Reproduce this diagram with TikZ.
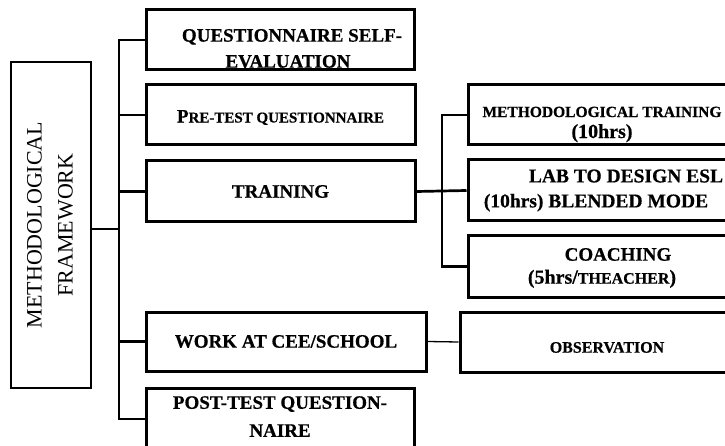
\documentclass[tikz,border=0pt]{standalone}
\usepackage{fontspec}
\setmainfont{Liberation Serif}[BoldFeatures={FakeBold=0.6}]
\newcommand{\bt}[5]{\parbox[c][#2][c]{#1}{\centering\vspace*{#3}#5\par\vspace*{#4}}}
\tikzset{
  box/.style={draw, line width=3pt, inner sep=0pt, font=\bfseries},
  mainbox/.style={draw, line width=2.4pt, inner sep=0pt, minimum width=80pt, minimum height=326pt},
  link/.style={line width=2.7pt},
  thinlink/.style={line width=1.3pt}
}
\begin{document}
\begin{tikzpicture}[x=1pt,y=-1pt]
\useasboundingbox (0,0) rectangle (725,446);
\fill[white] (0,0) rectangle (725,446);
\clip (0,0) rectangle (725,446);

% left main box
\node[mainbox] (mf) at (51,225) {\rotatebox{90}{\fontsize{22}{31}\selectfont\begin{tabular}{@{}c@{}}METHODOLOGICAL\\FRAMEWORK\end{tabular}}};

% first column
\node[box] (q) at (280,40) {\bt{268pt}{60pt}{17pt}{0pt}{\fontsize{19}{26}\selectfont\hspace*{24pt}QUESTIONNAIRE SELF-\\\hspace*{16pt}EVALUATION}};
\node[box] (pre) at (280.5,115) {\bt{269pt}{60pt}{5pt}{0pt}{\fontsize{19}{27}\selectfont P{\fontsize{15}{27}\selectfont RE-TEST QUESTIONNAIRE}}};
\node[box] (tr) at (280.5,191.5) {\bt{269pt}{61pt}{0pt}{0pt}{\fontsize{19}{27}\selectfont TRAINING}};
\node[box] (work) at (286,341.5) {\bt{280pt}{59pt}{0pt}{0pt}{\fontsize{19}{27}\selectfont WORK AT CEE/SCHOOL}};
\node[box] (post) at (280,419) {\bt{268pt}{62pt}{0pt}{5pt}{\fontsize{19}{28}\selectfont POST-TEST QUESTION-\\NAIRE}};

% second column
\node[box] (meth) at (602,115) {\bt{268pt}{60pt}{19pt}{0pt}{\fontsize{15.5}{21}\selectfont METHODOLOGICAL TRAINING\\{\fontsize{20}{21}\selectfont (10hrs)}}};
\node[box] (lab) at (602,190.5) {\bt{268pt}{61pt}{0pt}{0pt}{\fontsize{19.5}{25}\selectfont\hspace*{48pt}LAB TO DESIGN ESL\\\hspace*{-12pt}(10hrs) BLENDED MODE}};
\node[box] (coach) at (602,266.5) {\bt{268pt}{61pt}{3pt}{0pt}{\fontsize{19}{23}\selectfont\hspace*{32pt}COACHING\\{\fontsize{20}{23}\selectfont (5hrs/{\fontsize{16}{23}\selectfont THEACHER})}}};
\node[box] (obs) at (607,342) {\bt{294pt}{60pt}{11pt}{0pt}{\fontsize{16}{20}\selectfont OBSERVATION}};

% connectors
\coordinate (t) at (119,229);
\coordinate (r) at (442,191);
\draw[link] (mf.east |- t) -- (t);
\draw[link] (q.west) -| (post.west -| t) -- (post.west);
\draw[link] (pre.west) -- (pre.west -| t);
\draw[link] (tr.west) -- (tr.west -| t);
\draw[link] (work.west) -- (work.west -| t);
\draw[link] (tr.east) -- (lab.west);
\draw[link] (meth.west) -| (coach.west -| r) -- (coach.west);
\draw[thinlink] (work.east) -- (obs.west);
\end{tikzpicture}
\end{document}
